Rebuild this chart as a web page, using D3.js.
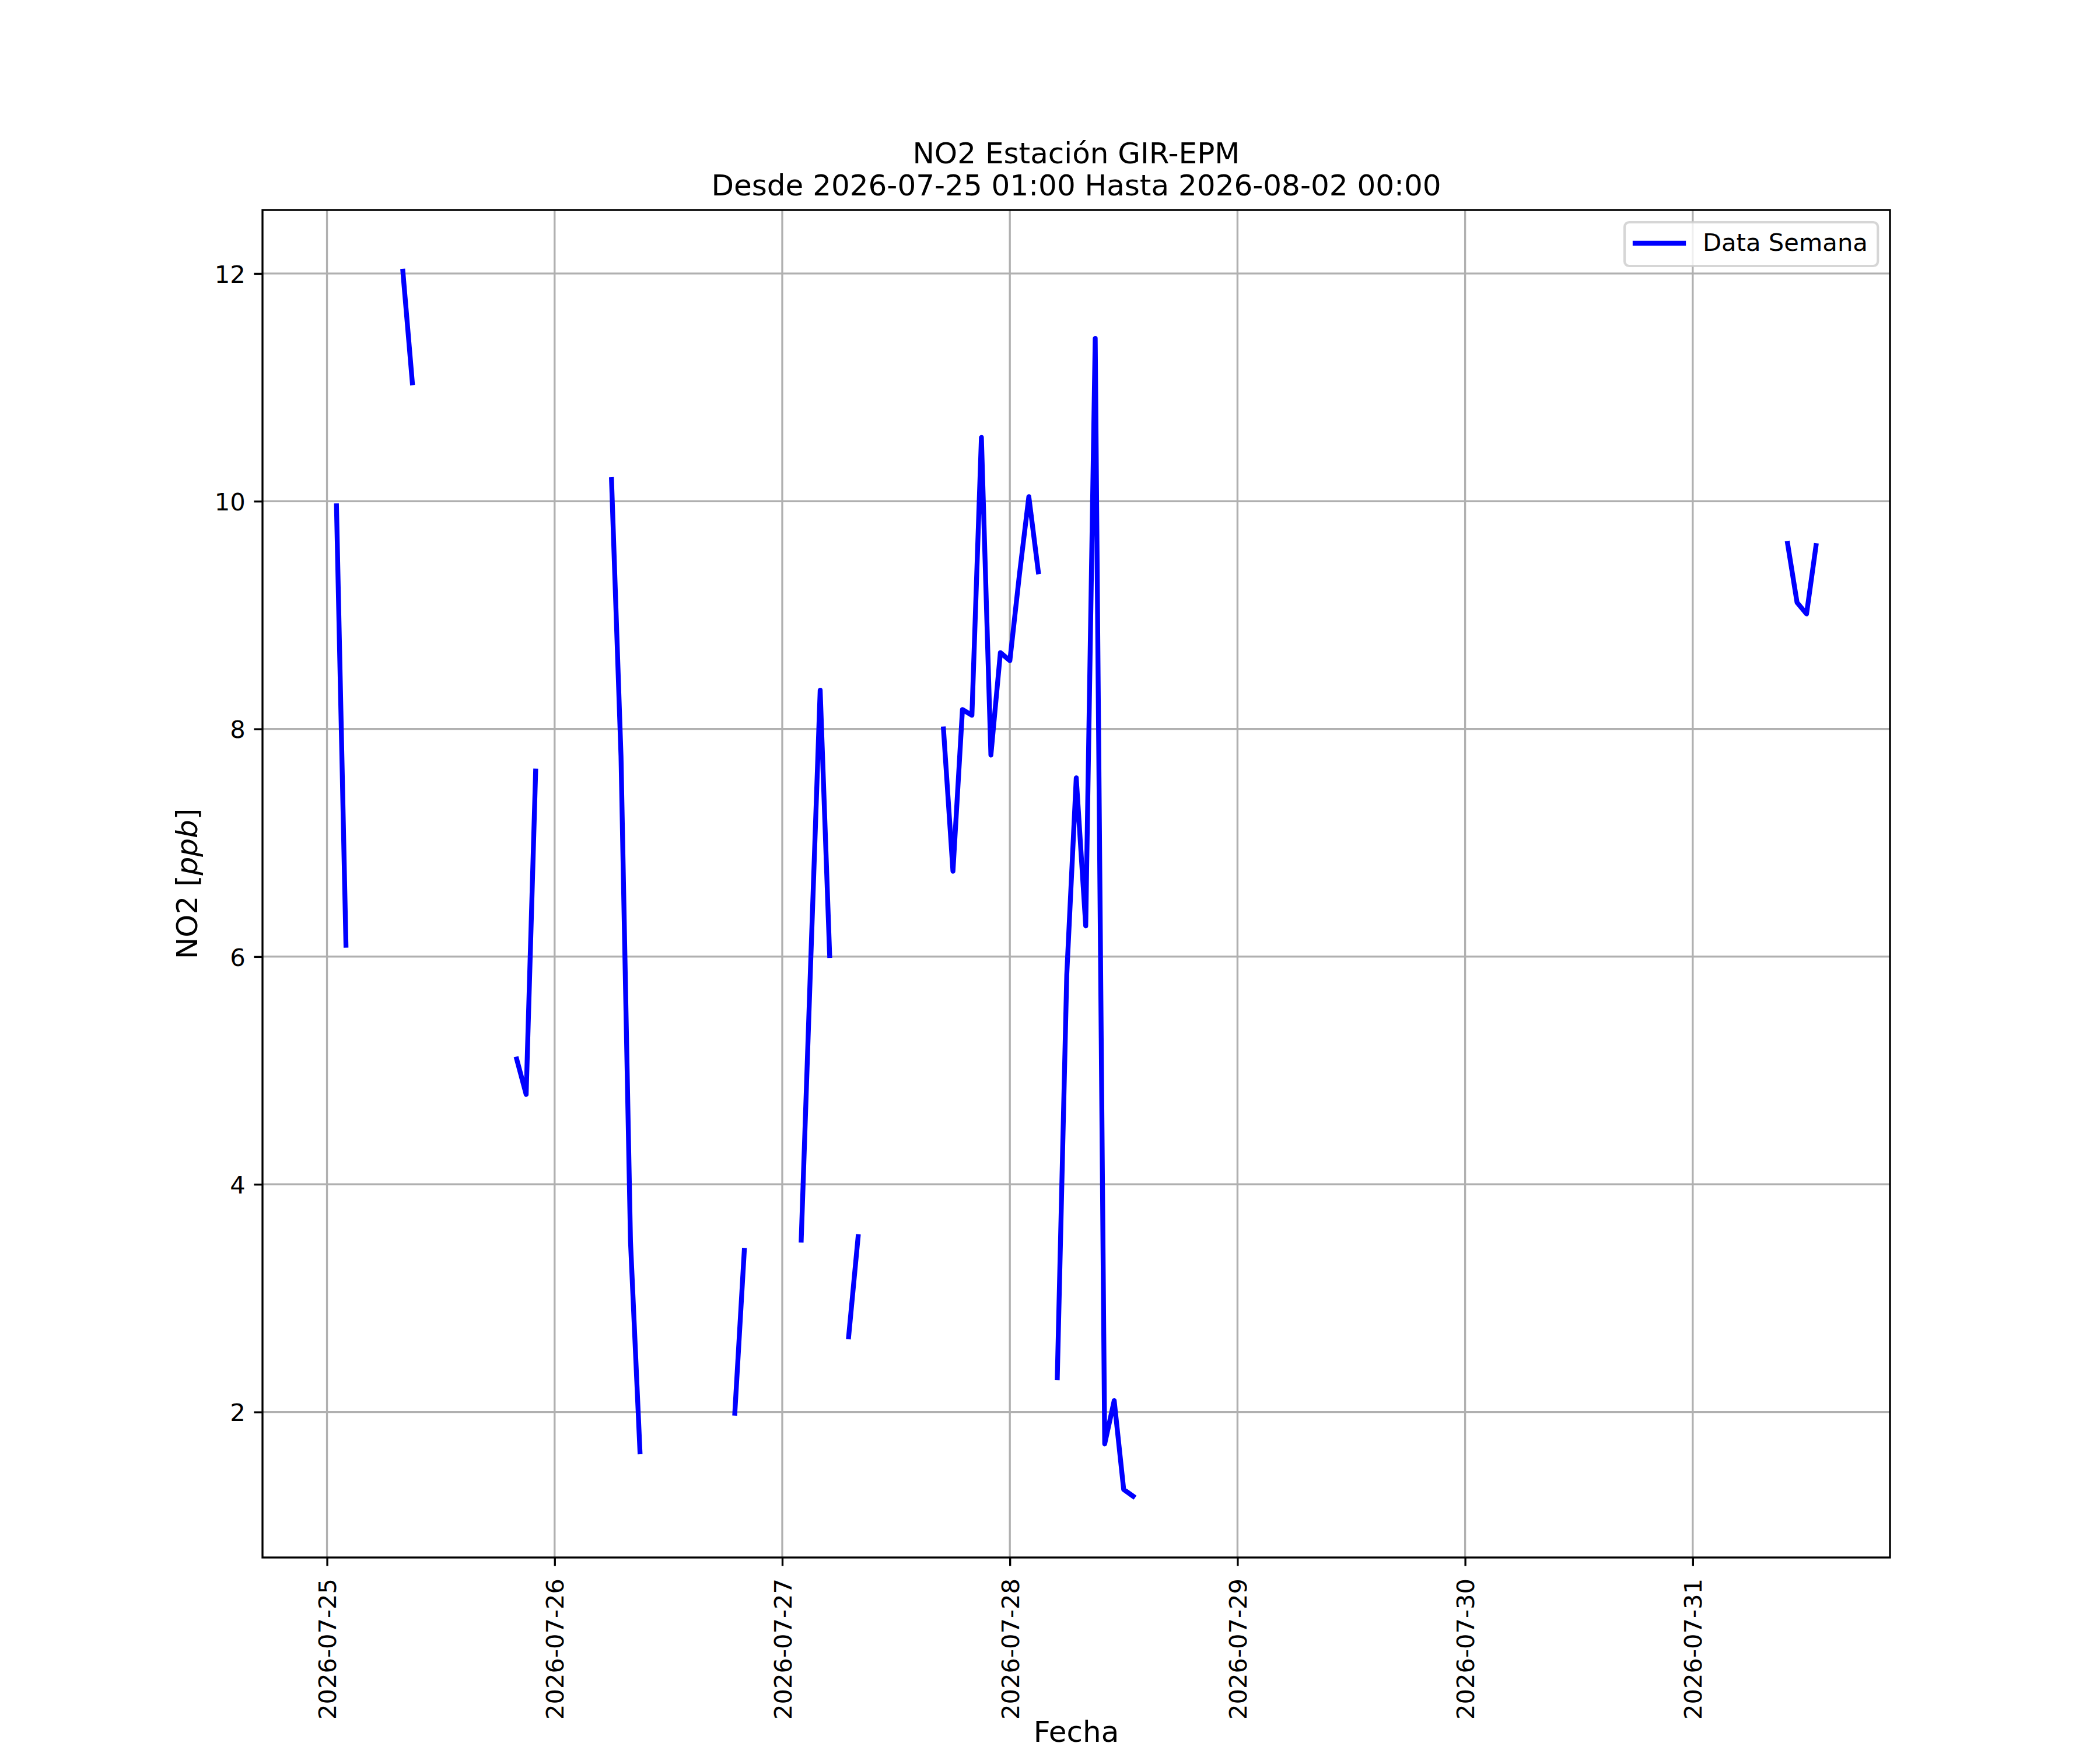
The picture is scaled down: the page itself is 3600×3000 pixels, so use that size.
<!DOCTYPE html>
<html>
<head>
<meta charset="utf-8">
<script src="https://cdn.jsdelivr.net/npm/d3@7"></script>
<style>
  body { margin: 0; background: #fff; }
  svg { display: block; font-family: "DejaVu Sans", sans-serif; }
</style>
</head>
<body>
<svg id="grafica"></svg>
<script>
// Datos horarios; null = hora sin medicion (corta la linea)
const fechas = [
    "2026-07-25 01:00", "2026-07-25 02:00", "2026-07-25 03:00",
    "2026-07-25 08:00", "2026-07-25 09:00", "2026-07-25 10:00",
    "2026-07-25 20:00", "2026-07-25 21:00", "2026-07-25 22:00", "2026-07-25 23:00",
    "2026-07-26 06:00", "2026-07-26 07:00", "2026-07-26 08:00", "2026-07-26 09:00", "2026-07-26 10:00",
    "2026-07-26 19:00", "2026-07-26 20:00", "2026-07-26 21:00",
    "2026-07-27 02:00", "2026-07-27 03:00", "2026-07-27 04:00", "2026-07-27 05:00", "2026-07-27 06:00",
    "2026-07-27 07:00", "2026-07-27 08:00", "2026-07-27 09:00",
    "2026-07-27 17:00", "2026-07-27 18:00", "2026-07-27 19:00", "2026-07-27 20:00", "2026-07-27 21:00",
    "2026-07-27 22:00", "2026-07-27 23:00", "2026-07-28 00:00", "2026-07-28 01:00", "2026-07-28 02:00",
    "2026-07-28 03:00", "2026-07-28 04:00",
    "2026-07-28 05:00", "2026-07-28 06:00", "2026-07-28 07:00", "2026-07-28 08:00", "2026-07-28 09:00",
    "2026-07-28 10:00", "2026-07-28 11:00", "2026-07-28 12:00", "2026-07-28 13:00", "2026-07-28 14:00",
    "2026-07-31 10:00", "2026-07-31 11:00", "2026-07-31 12:00", "2026-07-31 13:00"
];
const no2 = [
    9.96, 6.10, null,
    12.02, 11.04, null,
    5.10, 4.79, 7.63, null,
    10.19, 7.76, 3.50, 1.65, null,
    1.99, 3.42, null,
    3.51, 5.95, 8.34, 6.01, null,
    2.66, 3.54, null,
    8.00, 6.75, 8.17, 8.12, 10.56,
    7.77, 8.67, 8.60, 9.35, 10.04,
    9.38, null,
    2.30, 5.84, 7.57, 6.27, 11.43,
    1.72, 2.10, 1.32, 1.26, null,
    9.63, 9.11, 9.01, 9.61
];
const diasTicks = ["2026-07-25", "2026-07-26", "2026-07-27", "2026-07-28", "2026-07-29", "2026-07-30", "2026-07-31"];
const yTicks = [2, 4, 6, 8, 10, 12];
const titulo = ["NO2 Estación GIR-EPM", "Desde 2026-07-25 01:00 Hasta 2026-08-02 00:00"];
const etiquetaSerie = "Data Semana";

const width = 3600, height = 3000;
const margin = { top: 360, right: 360, bottom: 330, left: 450 };
const fuente = "DejaVu Sans";
const fs = 41.67;      // 10pt @300dpi
const fsGrande = 50;   // 12pt @300dpi

const parseHora = d3.timeParse("%Y-%m-%d %H:%M");
const parseDia = d3.timeParse("%Y-%m-%d");
const data = fechas.map((f, i) => ({ date: parseHora(f), value: no2[i] }));
const validos = data.filter(d => d.value !== null);

const svg = d3.select("#grafica").attr("width", width).attr("height", height);

// margenes automaticos de 5% como matplotlib
const pad = (ext) => {
    const s = ext[1] - ext[0];
    return [ext[0] - 0.05 * s, ext[1] + 0.05 * s];
};
const xExt = d3.extent(validos, d => +d.date);
const x = d3.scaleTime()
    .domain(pad(xExt).map(t => new Date(t)))
    .range([margin.left, width - margin.right]);
const y = d3.scaleLinear()
    .domain(pad(d3.extent(validos, d => d.value)))
    .range([height - margin.bottom, margin.top]);

const x0 = margin.left, x1 = width - margin.right;
const y0 = margin.top, y1 = height - margin.bottom;

svg.append("defs").append("clipPath").attr("id", "clip")
    .append("rect").attr("x", x0).attr("y", y0).attr("width", x1 - x0).attr("height", y1 - y0);

// grilla
const grid = svg.append("g").attr("stroke", "#b0b0b0").attr("stroke-width", 3.33);
grid.selectAll(".gx").data(diasTicks.map(parseDia)).join("line")
    .attr("x1", d => x(d)).attr("x2", d => x(d)).attr("y1", y0).attr("y2", y1);
grid.selectAll(".gy").data(yTicks).join("line")
    .attr("x1", x0).attr("x2", x1).attr("y1", d => y(d)).attr("y2", d => y(d));

// serie
const line = d3.line()
    .defined(d => d.value !== null)
    .x(d => x(d.date))
    .y(d => y(d.value));

svg.append("path")
    .datum(data)
    .attr("clip-path", "url(#clip)")
    .attr("fill", "none")
    .attr("stroke", "#0000ff")
    .attr("stroke-width", 8.33)
    .attr("stroke-linejoin", "round")
    .attr("stroke-linecap", "square")
    .attr("d", line);

// ejes
const xAxis = g => g
    .attr("transform", `translate(0,${y1})`)
    .call(d3.axisBottom(x)
        .tickValues(diasTicks.map(parseDia))
        .tickFormat(d3.timeFormat("%Y-%m-%d"))
        .tickSize(14.6).tickPadding(0))
    .call(g => g.select(".domain").remove())
    .call(g => g.selectAll(".tick line").attr("stroke", "#000").attr("stroke-width", 3.33))
    .call(g => g.selectAll(".tick text")
        .attr("font-size", fs)
        .attr("fill", "#000")
        .attr("text-anchor", "end")
        .attr("transform", "translate(0,36) rotate(-90)")
        .attr("x", 0).attr("y", 0).attr("dy", "0.364em"));

const yAxis = g => g
    .attr("transform", `translate(${x0},0)`)
    .call(d3.axisLeft(y)
        .tickValues(yTicks)
        .tickSize(14.6).tickPadding(14.6))
    .call(g => g.select(".domain").remove())
    .call(g => g.selectAll(".tick line").attr("stroke", "#000").attr("stroke-width", 3.33))
    .call(g => g.selectAll(".tick text")
        .attr("font-size", fs)
        .attr("fill", "#000")
        .attr("dy", "0.364em"));

svg.append("g").call(xAxis).attr("font-family", fuente).attr("font-size", fs);
svg.append("g").call(yAxis).attr("font-family", fuente).attr("font-size", fs);

// marco
svg.append("rect")
    .attr("x", x0).attr("y", y0).attr("width", x1 - x0).attr("height", y1 - y0)
    .attr("fill", "none").attr("stroke", "#000").attr("stroke-width", 3.33);

// titulos
svg.append("g").selectAll("text").data(titulo).join("text")
    .attr("x", (x0 + x1) / 2)
    .attr("y", (d, i) => 280 + i * 55)
    .attr("text-anchor", "middle")
    .attr("font-size", fsGrande)
    .text(d => d);

svg.append("text")
    .attr("x", (x0 + x1) / 2).attr("y", 2986)
    .attr("text-anchor", "middle")
    .attr("font-size", fsGrande)
    .text("Fecha");

const yLabel = svg.append("text")
    .attr("transform", `translate(338,${(y0 + y1) / 2}) rotate(-90)`)
    .attr("text-anchor", "middle")
    .attr("font-size", fsGrande);
yLabel.append("tspan").text("NO2 [");
yLabel.append("tspan").attr("font-style", "italic").text("ppb");
yLabel.append("tspan").text("]");

// leyenda
const leg = svg.append("g");
leg.append("rect")
    .attr("x", 2785).attr("y", 381).attr("width", x1 - 20.8 - 2785).attr("height", 75)
    .attr("rx", 8).attr("ry", 8)
    .attr("fill", "#fff").attr("fill-opacity", 0.8)
    .attr("stroke", "#cccccc").attr("stroke-opacity", 0.8).attr("stroke-width", 4.17);
leg.append("line")
    .attr("x1", 2803).attr("x2", 2886).attr("y1", 417).attr("y2", 417)
    .attr("stroke", "#0000ff").attr("stroke-width", 8.33).attr("stroke-linecap", "square");
leg.append("text")
    .attr("x", 2919).attr("y", 430)
    .attr("font-size", fs)
    .text(etiquetaSerie);
</script>
</body>
</html>
